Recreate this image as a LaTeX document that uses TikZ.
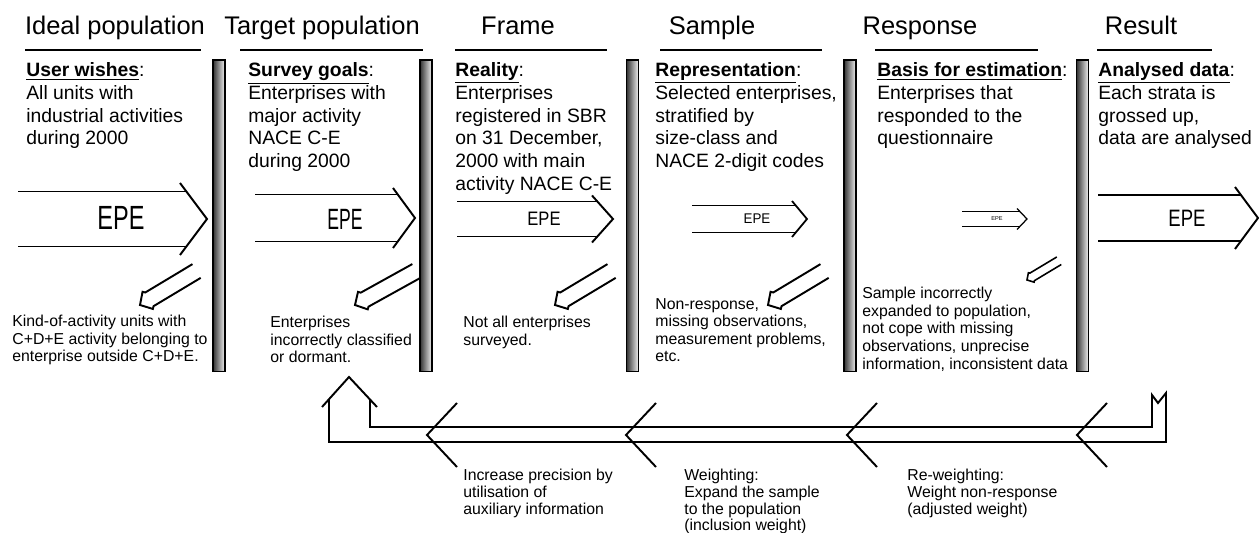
\documentclass[tikz,border=0pt]{standalone}
\usepackage{fontspec}
\setmainfont{Liberation Sans}
\usepackage{graphicx}
\usetikzlibrary{positioning,calc}
\tikzset{
    header/.style = {
        font=\fontsize{14.5}{16}\selectfont,
        anchor=base,
        inner sep=0pt
    },
    stage/.style = {
        font=\fontsize{11}{13}\selectfont,
        align=left,
        anchor=north west,
        inner sep=0pt
    },
    loss/.style = {
        font=\fontsize{9}{10}\selectfont,
        align=left,
        anchor=north west,
        inner sep=0pt
    },
    weight/.style = {
        font=\fontsize{9}{9.5}\selectfont,
        align=left,
        anchor=north west,
        inner sep=0pt
    },
    wall/.style = {
        draw,
        shape=rectangle,
        minimum width=0.24cm,
        minimum height=6.24cm,
        inner sep=0pt,
        line width=0.6pt,
        left color=black!80,
        right color=black!5
    },
    label/.style = {
        inner sep=0pt
    },
    fat/.style = {line width=1.1pt, line join=miter},
    rule/.style = {line width=0.6pt},
    % open arrow: tip at origin, shaft length / half width / arm span / head depth
    pics/epe/.style args = {#1/#2/#3/#4}{code={
        \pgfmathsetmacro{\shaftend}{-#4*#2/#3}
        \draw (-#1,-#2) -- (\shaftend,-#2);
        \draw (-#1,#2) -- (\shaftend,#2);
        \draw (-#4,-#3) -- (0,0) -- (-#4,#3);
    }},
    % hollow arrow for the lost units
    pics/leak/.style = {code={
        \draw (#1,-8) -- (11,-8) -- (9,-10) -- (0,0) -- (9,10) -- (11,8) -- (#1,8);
    }},
}

\begin{document}
\begin{tikzpicture}[x=0.02cm, y=-0.02cm]
    \useasboundingbox (0,0) rectangle (1259,533);

    % stage headers
    \node[header] (ideal) at (115,35) {Ideal population};
    \node[header] (target) at (322,35) {Target population};
    \node[header] (frame) at (518,35) {Frame};
    \node[header] (sample) at (712,35) {Sample};
    \node[header] (response) at (920,35) {Response};
    \node[header] (result) at (1141,35) {Result};

    \draw[rule] (25,50) -- (201,50);
    \draw[rule] (240,50) -- (423,50);
    \draw[rule] (455,50) -- (607,50);
    \draw[rule] (660,50) -- (822,50);
    \draw[rule] (875,50) -- (1038,50);
    \draw[rule] (1097,50) -- (1212,50);

    % walls between the stages
    \node[wall] (wall1) at (219,216) {};
    \node[wall] (wall2) at (426,216) {};
    \node[wall] (wall3) at (632.5,216) {};
    \node[wall] (wall4) at (850,216) {};
    \node[wall] (wall5) at (1082.5,216) {};

    % what each stage holds
    \node[stage] (wishes) at (26,62) {\underline{\textbf{User wishes}}:\\All units with\\industrial activities\\during 2000};
    \node[stage] (goals) at (248,62) {\underline{\textbf{Survey goals}}:\\Enterprises with\\major activity\\NACE C-E\\during 2000};
    \node[stage] (reality) at (455,62) {\underline{\textbf{Reality}}:\\Enterprises\\registered in SBR\\on 31 December,\\2000 with main\\activity NACE C-E};
    \node[stage] (repr) at (655,62) {\underline{\textbf{Representation}}:\\Selected enterprises,\\stratified by\\size-class and\\NACE 2-digit codes};
    \node[stage] (basis) at (877,62) {\underline{\textbf{Basis for estimation}}:\\Enterprises that\\responded to the\\questionnaire};
    \node[stage] (analysed) at (1098,62) {\underline{\textbf{Analysed data}}:\\Each strata is\\grossed up,\\data are analysed};

    % EPE arrows
    \pic[fat] (arr1) at (207,219) {epe=189/27.5/36/27};
    \pic[fat] (arr2) at (415,218) {epe=160/23.5/30/22};
    \pic[fat] (arr3) at (613,219) {epe=156/17.5/23.5/21};
    \pic[line width=1pt] (arr4) at (807,219) {epe=115/13.5/18/15};
    \pic[line width=0.7pt] (arr5) at (1027,219) {epe=65/7.5/10.5/10};
    \pic[fat] (arr6) at (1258,218) {epe=160/23/31/23};

    \node[label, font=\fontsize{19.1}{20}\selectfont] (epe1) at (121,218) {\scalebox{0.7}[1]{EPE}};
    \node[label, font=\fontsize{16.7}{18}\selectfont] (epe2) at (345,219) {\scalebox{0.6}[1]{EPE}};
    \node[label, font=\fontsize{11.1}{12}\selectfont] (epe3) at (544,219) {\scalebox{0.85}[1]{EPE}};
    \node[label, font=\fontsize{8}{9}\selectfont] (epe4) at (757,219) {\scalebox{0.95}[1]{EPE}};
    \node[label, font=\fontsize{3.2}{4}\selectfont] (epe5) at (997,219) {EPE};
    \node[label, font=\fontsize{13.5}{15}\selectfont] (epe6) at (1187,218) {\scalebox{0.78}[1]{EPE}};

    % units lost on the way
    \pic[fat, rotate=31] (leak1) at (140,305) {leak=66};
    \pic[fat, rotate=29] (leak2) at (355,305) {leak=70};
    \pic[fat, rotate=31] (leak3) at (555,305) {leak=66};
    \pic[fat, rotate=31] (leak4) at (768,305) {leak=66};
    \pic[line width=0.9pt, rotate=31, scale=0.55] (leak5) at (1027,280) {leak=68};

    \node[loss] (kau) at (12,315) {Kind-of-activity units with\\C+D+E activity belonging to\\enterprise outside C+D+E.};
    \node[loss] (dormant) at (270,316) {Enterprises\\incorrectly classified\\or dormant.};
    \node[loss] (notall) at (463,316) {Not all enterprises\\surveyed.};
    \node[loss] (nonresp) at (655,298) {Non-response,\\missing observations,\\measurement problems,\\etc.};
    \node[loss] (wrong) at (862,287) {Sample incorrectly\\expanded to population,\\not cope with missing\\observations, unprecise\\information, inconsistent data};

    % feedback from the result back to the target population
    \coordinate (back) at (349,377);
    \path[draw, fat] (329,399) -- (329,442) -- (1166,442) -- (1166,393) -- (1158,403)
        -- (1152,395) -- (1152,427) -- (370,427) -- (370,399.5);
    \path[draw, fat] (322,407) -- (back) -- (377,407);
    \foreach \x in {427,626,847,1077}
        \path[draw, fat] (\x+30,403) -- (\x,435) -- (\x+30,467);

    \node[weight] (precision) at (463,469) {Increase precision by\\utilisation of\\auxiliary information};
    \node[weight] (weighting) at (684,469) {Weighting:\\Expand the sample\\to the population\\(inclusion weight)};
    \node[weight] (reweight) at (907,469) {Re-weighting:\\Weight non-response\\(adjusted weight)};
\end{tikzpicture}
\end{document}
